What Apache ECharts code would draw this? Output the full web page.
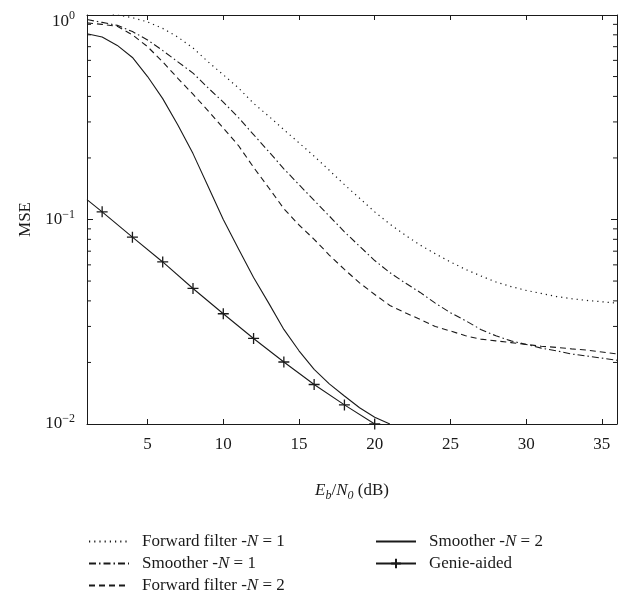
<!DOCTYPE html>
<html>
<head>
<meta charset="utf-8">
<script src="https://cdn.jsdelivr.net/npm/echarts@6/dist/echarts.min.js"></script>
<style>html,body{margin:0;padding:0;background:#fff;}#c{width:633px;height:592px;}</style>
</head>
<body>
<div id="c"></div>
<script>
// ---- data ----
const snr = [1,2,3,4,5,6,7,8,9,10,11,12,13,14,15,16,17,18,19,20,21,22,23,24,25,26,27,28,29,30,31,32,33,34,35,36];
const fwdN1 = [1.05,1.03,1.0,0.97,0.925,0.86,0.78,0.69,0.59,0.51,0.44,0.37,0.32,0.275,0.237,0.204,0.174,0.148,0.127,0.109,0.095,0.084,0.075,0.068,0.062,0.057,0.053,0.0495,0.047,0.045,0.0435,0.042,0.041,0.0402,0.0396,0.039];
const smoN1 = [0.95,0.92,0.89,0.83,0.755,0.67,0.59,0.52,0.44,0.375,0.315,0.26,0.215,0.177,0.148,0.124,0.104,0.087,0.074,0.063,0.055,0.049,0.044,0.039,0.035,0.032,0.029,0.027,0.0255,0.0245,0.0235,0.0228,0.022,0.0215,0.021,0.0205];
const fwdN2 = [0.915,0.9,0.88,0.80,0.70,0.59,0.49,0.41,0.34,0.28,0.23,0.18,0.143,0.113,0.094,0.08,0.067,0.057,0.049,0.043,0.038,0.035,0.0325,0.030,0.0285,0.027,0.026,0.0255,0.025,0.0245,0.024,0.0237,0.0233,0.023,0.0225,0.022];
const smoN2X = [1,2,3,4,5,6,7,8,9,10,11,12,13,14,15,16,17,18,19,20,21];
const smoN2 = [0.81,0.78,0.71,0.62,0.50,0.39,0.29,0.21,0.145,0.10,0.072,0.052,0.039,0.029,0.0228,0.0185,0.0157,0.0137,0.0120,0.0108,0.0100];
const genieX = [1,2,4,6,8,10,12,14,16,18,20];
const genie = [0.125,0.109,0.082,0.062,0.046,0.0346,0.0262,0.0201,0.0156,0.0124,0.0100];
const xTicks = [5,10,15,20,25,30,35];
const yMinorTicks = [0.02,0.03,0.04,0.05,0.06,0.07,0.08,0.09,0.2,0.3,0.4,0.5,0.6,0.7,0.8,0.9];
const names = ['Forward filter -N = 1','Smoother -N = 1','Forward filter -N = 2','Smoother -N = 2','Genie-aided'];
const X_MIN = 1, X_MAX = 36, Y_MIN = 0.01, Y_MAX = 1;

const FONT = 'Liberation Serif';
const INK = '#1a1a1a';
const pair = (xs, ys) => xs.map((x, i) => [x, ys[i]]);

function legendFmt(name) {
  const m = name.match(/^(.*-)N( = \d)$/);
  if (!m) return '{a|' + name + '}';
  return '{a|' + m[1] + '}{i|N}{a|' + m[2] + '}';
}
const legendRich = {
  a: {fontFamily: FONT, fontSize: 17, color: INK, lineHeight: 20},
  i: {fontFamily: FONT, fontSize: 17, fontStyle: 'italic', color: INK, lineHeight: 20}
};
const noSym = n => ({name: n, itemStyle: {opacity: 0}});
const legendBase = {orient: 'vertical', top: 533, height: 80, itemWidth: 40, itemHeight: 12, itemGap: 5,
  padding: 0, formatter: legendFmt, textStyle: {rich: legendRich, padding: [0, 0, 0, 8]}, selectedMode: false};

const chart = echarts.init(document.getElementById('c'), null, {renderer: 'canvas'});
chart.setOption({
  animation: false,
  backgroundColor: '#fff',
  grid: {left: 87, right: 16, top: 7, bottom: 168, containLabel: false},
  legend: [
    Object.assign({}, legendBase, {left: 88, data: [noSym(names[0]), noSym(names[1]), noSym(names[2])]}),
    Object.assign({}, legendBase, {left: 375, data: [noSym(names[3]), {name: names[4]}]})
  ],
  xAxis: [
    {type: 'value', min: X_MIN, max: X_MAX, position: 'bottom',
     axisLine: {show: true, onZero: false, lineStyle: {color: INK, width: 1}},
     axisTick: {show: true, inside: true, length: 5, customValues: xTicks, lineStyle: {color: INK}},
     axisLabel: {customValues: xTicks, margin: 12, fontFamily: FONT, fontSize: 17, color: INK},
     splitLine: {show: false},
     name: '{i|E}{s|b}{a|/}{i|N}{s|0}{a| (dB)}', nameLocation: 'middle', nameGap: 56,
     nameTextStyle: {rich: {
       a: {fontFamily: FONT, fontSize: 17, color: INK, lineHeight: 22, verticalAlign: 'middle'},
       i: {fontFamily: FONT, fontSize: 17, fontStyle: 'italic', color: INK, lineHeight: 22, verticalAlign: 'middle'},
       s: {fontFamily: FONT, fontSize: 12, fontStyle: 'italic', color: INK, lineHeight: 12, verticalAlign: 'bottom', padding: [6, 0, 0, 0]}
     }}},
    {type: 'value', min: X_MIN, max: X_MAX, position: 'top',
     axisLine: {show: true, onZero: false, lineStyle: {color: INK, width: 1}},
     axisTick: {show: true, inside: true, length: 5, customValues: xTicks, lineStyle: {color: INK}},
     axisLabel: {show: false}, splitLine: {show: false}}
  ],
  yAxis: [
    {type: 'log', logBase: 10, min: Y_MIN, max: Y_MAX, position: 'left',
     axisLine: {show: true, onZero: false, lineStyle: {color: INK, width: 1}},
     axisTick: {show: true, inside: true, length: 6, lineStyle: {color: INK}},
     axisLabel: {margin: 12, color: INK,
       formatter: v => {
         const e = Math.round(Math.log10(v));
         const t = e === 0 ? 't' : '';
         return '{b' + t + '|10}{s' + t + '|' + (e === 0 ? '0' : '\u2212' + (-e)) + '}';
       },
       rich: {
         b: {fontFamily: FONT, fontSize: 17, color: INK, lineHeight: 22, verticalAlign: 'middle'},
         s: {fontFamily: FONT, fontSize: 12, color: INK, lineHeight: 12, verticalAlign: 'top'},
         bt: {fontFamily: FONT, fontSize: 17, color: INK, lineHeight: 30, verticalAlign: 'bottom'},
         st: {fontFamily: FONT, fontSize: 12, color: INK, lineHeight: 12, verticalAlign: 'top', padding: [10, 0, 0, 0]}
       }},
     splitLine: {show: false},
     name: 'MSE', nameLocation: 'middle', nameGap: 52,
     nameTextStyle: {fontFamily: FONT, fontSize: 17, color: INK}},
    {type: 'log', logBase: 10, min: Y_MIN, max: Y_MAX, position: 'right',
     axisLine: {show: true, onZero: false, lineStyle: {color: INK, width: 1}},
     axisTick: {show: true, inside: true, length: 6, lineStyle: {color: INK}},
     axisLabel: {show: false}, splitLine: {show: false}}
  ],
  series: [
    {name: names[0], type: 'line', data: pair(snr, fwdN1), symbol: 'none', clip: true,
     lineStyle: {color: INK, width: 1.2, type: [1.2, 4]}, itemStyle: {color: INK}},
    {name: names[1], type: 'line', data: pair(snr, smoN1), symbol: 'none', clip: true,
     lineStyle: {color: INK, width: 1.1, type: [7, 3, 1.5, 3]}, itemStyle: {color: INK}},
    {name: names[2], type: 'line', data: pair(snr, fwdN2), symbol: 'none', clip: true,
     lineStyle: {color: INK, width: 1.1, type: [6, 4]}, itemStyle: {color: INK}},
    {name: names[3], type: 'line', data: pair(smoN2X, smoN2), symbol: 'none', clip: true,
     lineStyle: {color: INK, width: 1.1, type: 'solid'}, itemStyle: {color: INK}},
    {name: names[4], type: 'line', clip: true,
     data: pair(genieX, genie).map((p, i) => i === 0 ? {value: p, symbol: 'none'} : {value: p}),
     symbol: 'path://M5,0L5,10M0,5L10,5', symbolSize: 11, showSymbol: true,
     lineStyle: {color: INK, width: 1.1}, itemStyle: {color: 'none', borderColor: INK, borderWidth: 1.3}},
    {type: 'custom', silent: true, z: 5, clip: false,
     data: yMinorTicks.map(v => [X_MIN, v]), encode: {x: 0, y: 1},
     renderItem: (params, api) => {
       const v = api.value(1);
       const l = api.coord([X_MIN, v]);
       const r = api.coord([X_MAX, v]);
       return {type: 'group', children: [
         {type: 'line', shape: {x1: l[0], y1: l[1], x2: l[0] + 4, y2: l[1]}, style: {stroke: INK, lineWidth: 1}},
         {type: 'line', shape: {x1: r[0], y1: r[1], x2: r[0] - 4, y2: r[1]}, style: {stroke: INK, lineWidth: 1}}
       ]};
     }}
  ]
});
</script>
</body>
</html>
